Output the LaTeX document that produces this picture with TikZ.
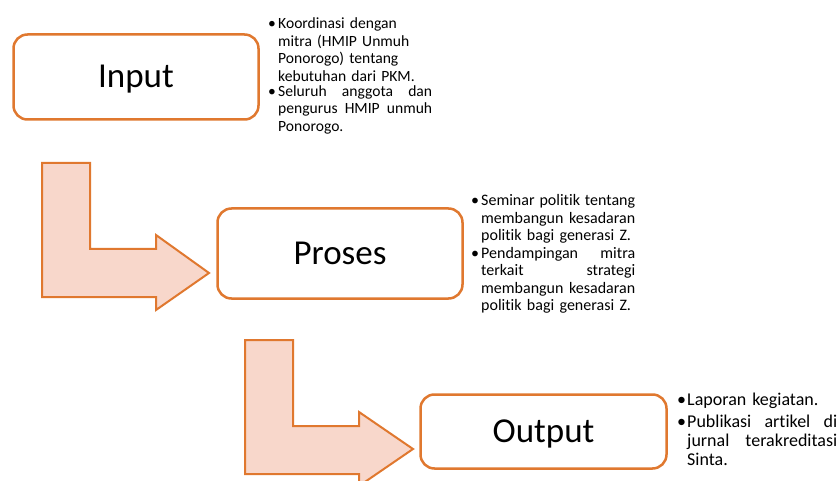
\documentclass[tikz,border=0pt]{standalone}
\usepackage{fontspec}
\setmainfont{Carlito}[RawFeature=-liga]
\definecolor{acc}{HTML}{E0782F}
\definecolor{accfill}{HTML}{F8D7CB}
\newcommand\bitem[2][10pt]{\noindent\makebox[#1][l]{\textbullet}\parbox[t]{\dimexpr\linewidth-#1\relax}{#2}\par}
\newcommand\jl[1]{\leavevmode\hbox to \linewidth{#1}}
\tikzset{
  stagebox/.style={draw=acc, line width=2.5pt, rounded corners=14pt, fill=white,
    inner xsep=0pt, inner ysep=0pt, text height=22pt, text depth=0pt,
    font=\fontsize{35}{40}\selectfont},
  bentarrow/.style={draw=acc, line width=2pt, fill=accfill, line join=miter},
  notes/.style={anchor=base west, inner sep=0pt, align=left},
}
\begin{document}
\begin{tikzpicture}[x=1pt, y=-1pt]
\clip (0,0) rectangle (838,481);
\fill[white] (0,0) rectangle (838,481);

% bent arrows
\draw[bentarrow] (42,163) -- (90,163) -- (90,249) -- (156,249) -- (156,235)
  -- (209,273) -- (156,310) -- (156,297) -- (42,297) -- cycle;
\draw[bentarrow] (245,340) -- (293,340) -- (293,426) -- (359,426) -- (359,412)
  -- (413,449) -- (359,486) -- (359,474) -- (245,474) -- cycle;

% stage boxes
\node[stagebox, minimum width=245pt, minimum height=85pt] (input) at (136,77) {Input};
\node[stagebox, minimum width=245pt, minimum height=90pt] (proses) at (340,253.5) {Proses};
\node[stagebox, minimum width=246pt, minimum height=74pt] (output) at (543.5,431.5) {Output};

% notes
\node[notes, text width=164pt, font=\fontsize{15.6}{17.5}\selectfont] (n1) at (268,29) {%
\bitem{Koordinasi dengan\\mitra (HMIP Unmuh\\Ponorogo) tentang\\kebutuhan dari PKM.}\vspace{3pt}
\bitem{\jl{Seluruh\hfill anggota\hfill dan}\\\jl{pengurus\hfill HMIP\hfill unmuh}\\Ponorogo.}};

\node[notes, text width=164pt, font=\fontsize{16}{17.3}\selectfont] (n2) at (471,206) {%
\bitem{\jl{Seminar\hfill politik\hfill tentang}\\\jl{membangun\hfill kesadaran}\\politik bagi generasi Z.}\vspace{3pt}
\bitem{\jl{Pendampingan\hfill mitra}\\\jl{terkait\hfill strategi}\\\jl{membangun\hfill kesadaran}\\politik bagi generasi Z.}};

\node[notes, text width=160pt, font=\fontsize{18}{19}\selectfont] (n3) at (677,405.5) {%
\bitem{Laporan kegiatan.}\vspace{3pt}
\bitem{\jl{Publikasi\hfill artikel\hfill di}\\\jl{jurnal\hfill terakreditasi}\\Sinta.}};
\end{tikzpicture}
\end{document}
